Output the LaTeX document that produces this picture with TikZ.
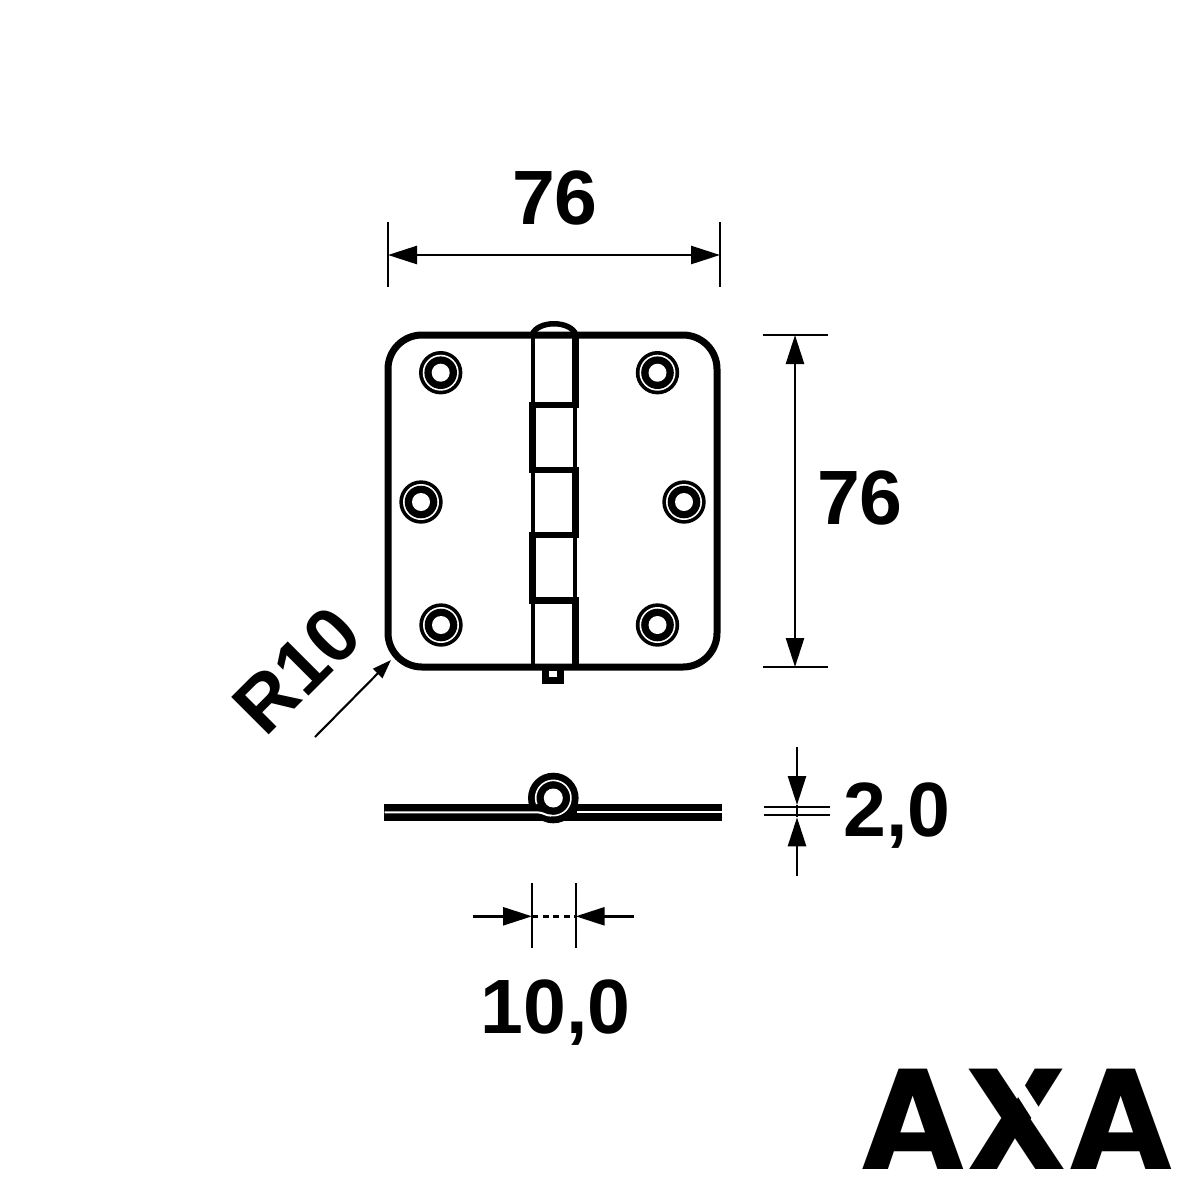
\documentclass[tikz,border=0pt]{standalone}
\usepackage{fontspec}
\setmainfont{Liberation Sans}
\newfontfamily\logofont{Poppins}
\usetikzlibrary{arrows.meta}
\tikzset{
  dimtext/.style={font=\fontsize{77}{77}\selectfont\bfseries, inner sep=0pt},
  dimline/.style={line width=2.6pt, black},
  extline/.style={line width=2.1pt, black},
  bighead/.style={dimline, {Triangle[length=29pt,width=18pt]}-{Triangle[length=29pt,width=18pt]}},
  thinhead/.style={line width=2.1pt, black, -{Triangle[length=19pt,width=13pt]}},
  platestroke/.style={line width=7pt, black},
  pinthin/.style={line width=4pt, black},
  pinthick/.style={line width=6.4pt, black, line cap=butt},
  knuckle/.style={line width=6.5pt, black},
}
\newcommand{\screw}[3]{%
  \fill[black] (#2,#3) circle[radius=21.7];
  \fill[white] (#2,#3) circle[radius=18];
  \fill[black] (#2,#3) circle[radius=16.3];
  \fill[white] (#2,#3) circle[radius=9];
  \coordinate (#1) at (#2,#3);
}
\begin{document}
\begin{tikzpicture}[x=1pt,y=-1pt]
\useasboundingbox[fill=white] (0,0) rectangle (1200,1200);

% plate
\draw[platestroke, rounded corners=34pt] (388,335) rectangle (717,667);
\screw{s1}{440.7}{372.7}
\screw{s2}{657.5}{372.7}
\screw{s3}{421}{502}
\screw{s4}{684}{502}
\screw{s5}{441}{625}
\screw{s6}{657.5}{625}

% barrel
\draw[pinthin] (532.5,335) -- (532.5,667);
\draw[line width=3.6pt] (575,335) -- (575,667);
\draw[pinthick] (532.3,401.7) -- (532.3,473);
\draw[pinthick] (532.3,531.7) -- (532.3,603.7);
\draw[pinthick] (575.4,338) -- (575.4,408);
\draw[pinthick] (575.4,466.7) -- (575.4,538);
\draw[pinthick] (575.4,597.3) -- (575.4,665);
\draw[knuckle] (529.3,405) -- (578.6,405);
\draw[knuckle] (529.3,470) -- (578.6,470);
\draw[knuckle] (529.3,535) -- (578.6,535);
\draw[knuckle] (529.3,600.5) -- (578.6,600.5);
\draw[line width=5.5pt] (532,335) .. controls (537,320) and (571,320) .. (576,335);
\fill[black] (541.7,669) rectangle (564.3,684);
\fill[white] (548.7,670.5) rectangle (557.3,677);

% side view
\fill[black] (384,804.3) rectangle (722,820.8);
\fill[black] (553.3,798) circle[radius=25.3];
\fill[white] (553.3,798) circle[radius=9.5];
\draw[white, line width=1.6pt] plot[domain=-200:100, samples=80] ({553.3+17.6*cos(\x)},{798+17.6*sin(\x)});
\draw[white, line width=2pt] (384.5,812.4) -- (538,812.4) .. controls (543,812.4) and (546,815.8) .. (551,815.6);
\draw[white, line width=2pt] (577,812.4) -- (721.5,812.4);

% dimension: top 76
\coordinate (ta) at (388,222); \coordinate (tb) at (388,287);
\coordinate (tc) at (720,222); \coordinate (td) at (720,287);
\coordinate (te) at (388,255); \coordinate (tf) at (720,255);
\draw[extline] (ta) -- (tb);
\draw[extline] (tc) -- (td);
\draw[bighead] (te) -- (tf);
\node[dimtext] (tl) at (555,198) {76};

% dimension: right 76
\coordinate (ra) at (763,335); \coordinate (rb) at (828,335);
\coordinate (rc) at (763,667); \coordinate (rd) at (828,667);
\coordinate (re) at (795,335); \coordinate (rf) at (795,667);
\draw[extline] (ra) -- (rb);
\draw[extline] (rc) -- (rd);
\draw[bighead] (re) -- (rf);
\node[dimtext] (rl) at (860,498) {76};

% R10
\coordinate (ra1) at (315,737); \coordinate (ra2) at (391,660);
\draw[thinhead] (ra1) -- (ra2);
\node[dimtext, rotate=45] (r10) at (297,670) {R10};

% thickness 2,0
\coordinate (ha) at (764,806.7); \coordinate (hb) at (829.5,806.7);
\coordinate (hc) at (764,815.3); \coordinate (hd) at (829.5,815.3);
\coordinate (he) at (797,746.7); \coordinate (hf) at (797,805);
\coordinate (hg) at (797,876); \coordinate (hh) at (797,817.3);
\draw[extline] (ha) -- (hb);
\draw[extline] (hc) -- (hd);
\draw[dimline] (hf) -- (hh);
\draw[dimline, -{Triangle[length=29pt,width=18pt]}] (he) -- (hf);
\draw[dimline, -{Triangle[length=29pt,width=18pt]}] (hg) -- (hh);
\node[dimtext] (hl) at (897,816) {2,0};

% barrel 10,0
\coordinate (ba) at (532,883); \coordinate (bb) at (532,948);
\coordinate (bc) at (575.7,883); \coordinate (bd) at (575.7,948);
\coordinate (be) at (472.7,916.3); \coordinate (bf) at (532,916.3);
\coordinate (bg) at (633.5,916.3); \coordinate (bh) at (575.7,916.3);
\draw[extline] (ba) -- (bb);
\draw[extline] (bc) -- (bd);
\draw[dimline, -{Triangle[length=29pt,width=18pt]}] (be) -- (bf);
\draw[dimline, -{Triangle[length=29pt,width=18pt]}] (bg) -- (bh);
\draw[dimline, dash pattern=on 6pt off 4.5pt] (bf) -- (bh);
\node[dimtext] (bl) at (555.5,1013) {10,0};

% logo
\node[inner sep=0pt, anchor=base] (logo) at (1017,1169)
  {\fontsize{143}{143}\selectfont\logofont\bfseries AXA};
\fill[white] (1011.7,1087) -- (1021.7,1080.5) -- (1046,1118.5) -- (1036,1125) -- cycle;
\end{tikzpicture}
\end{document}
